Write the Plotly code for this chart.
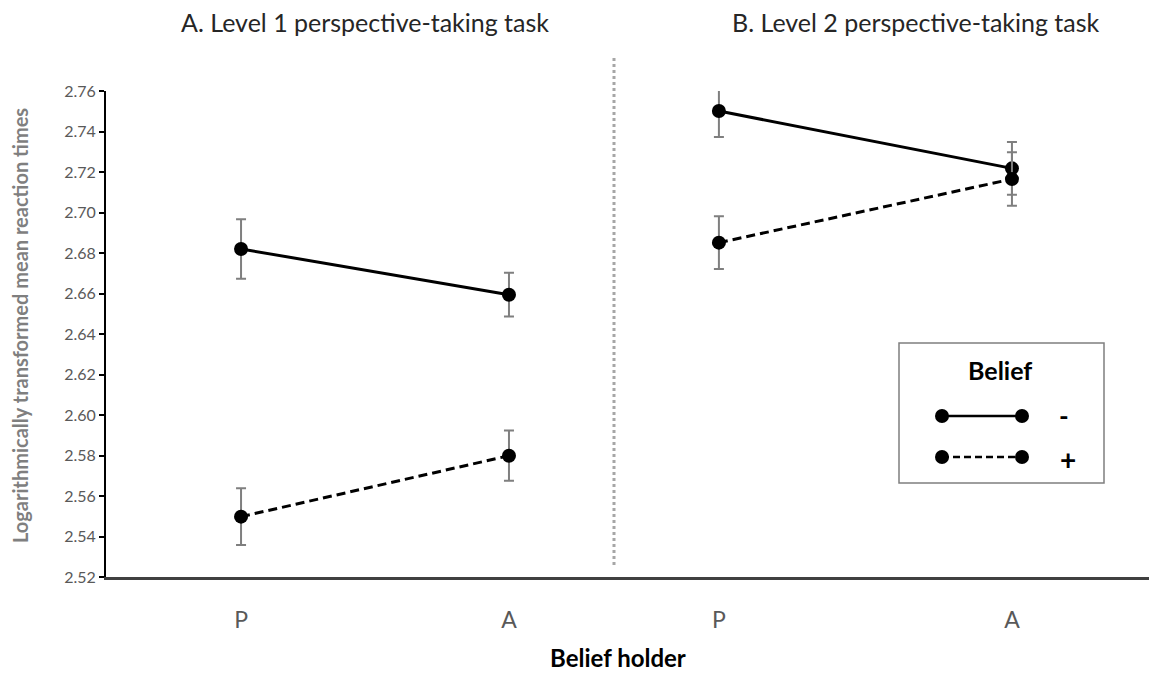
import plotly.graph_objects as go

# ---------------- data ----------------
holders = ["P", "A"]
panel_titles = ["A. Level 1 perspective-taking task", "B. Level 2 perspective-taking task"]
belief_labels = ["-", "+"]

l1_neg = [2.682, 2.6594]
l1_neg_err = [0.0147, 0.0108]
l1_pos = [2.5498, 2.5799]
l1_pos_err = [0.0140, 0.0124]

l2_neg = [2.7501, 2.7218]
l2_neg_err = [0.0128, 0.0130]
l2_pos = [2.6851, 2.7165]
l2_pos_err = [0.0130, 0.0132]

y_ticks = [2.52 + 0.02 * i for i in range(13)]

# ---------------- layout constants ----------------
OFF = 8  # page body margin
W, H = 1157 - OFF, 673 - OFF
ML, MR, MT, MB = 106 - OFF, 0, 91 - OFF, 673 - 577
PW = W - ML - MR
PH = H - MT - MB

def px_x(px):
    return (px - OFF - ML) / PW

def px_y(py):
    return (H - MB - (py - OFF)) / PH

split = px_x(614)
FONT = "Lato"
ERR_COLOR = "#7f7f7f"

fig = go.Figure()

def add_series(xaxis, yaxis, vals, errs, dash):
    fig.add_trace(go.Scatter(
        x=holders, y=vals, xaxis=xaxis, yaxis=yaxis,
        mode="lines+markers",
        line=dict(color="black", width=3, dash=dash),
        marker=dict(color="black", size=14),
        error_y=dict(type="data", array=errs, visible=True,
                     color=ERR_COLOR, thickness=2, width=5),
        showlegend=False, hoverinfo="y",
    ))

add_series("x", "y", l1_neg, l1_neg_err, "solid")
add_series("x", "y", l1_pos, l1_pos_err, "9px,5px")
add_series("x2", "y2", l2_neg, l2_neg_err, "solid")
add_series("x2", "y2", l2_pos, l2_pos_err, "9px,5px")

# legend drawn on its own full-size axis
leg_x = [px_x(942), px_x(1022)]
for lab, dash, py in zip(belief_labels, ["solid", "7px,4px"], [416, 457]):
    fig.add_trace(go.Scatter(
        x=leg_x, y=[px_y(py)] * 2, xaxis="x3", yaxis="y3",
        mode="lines+markers",
        line=dict(color="black", width=2.5, dash=dash),
        marker=dict(color="black", size=14),
        showlegend=False, hoverinfo="skip",
    ))

tick_font = dict(family=FONT, size=16, color="#595959")
xtick_font = dict(family=FONT, size=23, color="#595959")

fig.update_layout(
    width=W, height=H,
    margin=dict(l=ML, r=MR, t=MT, b=MB),
    paper_bgcolor="white", plot_bgcolor="rgba(0,0,0,0)",
    font=dict(family=FONT),
    xaxis=dict(domain=[0, split], type="category", range=[-0.504, 1.392],
               showgrid=False, zeroline=False, showline=True,
               linecolor="#404040", linewidth=2.5,
               ticks="outside", ticklen=21, tickcolor="rgba(0,0,0,0)",
               tickfont=xtick_font, fixedrange=True),
    xaxis2=dict(domain=[split, 1], type="category", range=[-0.358, 1.495],
                showgrid=False, zeroline=False, showline=True,
                linecolor="#404040", linewidth=2.5,
                ticks="outside", ticklen=21, tickcolor="rgba(0,0,0,0)",
                tickfont=xtick_font, anchor="y2", fixedrange=True),
    yaxis=dict(range=[2.52, 2.76], tickvals=y_ticks, tickformat=".2f",
               showgrid=False, zeroline=False, showline=True,
               linecolor="black", linewidth=2,
               ticks="outside", ticklen=5, tickwidth=2, tickcolor="black",
               tickfont=tick_font, fixedrange=True),
    yaxis2=dict(range=[2.52, 2.76], anchor="x2", matches="y",
                visible=False, fixedrange=True),
    xaxis3=dict(domain=[0, 1], range=[0, 1], visible=False,
                anchor="y3", fixedrange=True),
    yaxis3=dict(domain=[0, 1], range=[0, 1], visible=False,
                anchor="x3", fixedrange=True),
    showlegend=False,
)

# dotted divider
fig.add_shape(type="line", xref="paper", yref="paper",
              x0=split, x1=split, y0=px_y(565), y1=px_y(55),
              line=dict(color="#a6a6a6", width=3, dash="dot"))

# legend box
fig.add_shape(type="rect", xref="paper", yref="paper",
              x0=px_x(899), x1=px_x(1104), y0=px_y(483), y1=px_y(343),
              line=dict(color="#7f7f7f", width=1.5), fillcolor="rgba(0,0,0,0)")

annos = [
    dict(text="<b>Belief</b>", x=px_x(1000), y=px_y(370), font=dict(size=25, color="black")),
    dict(text="<b>-</b>", x=px_x(1064), y=px_y(416), font=dict(size=26, color="black")),
    dict(text="<b>+</b>", x=px_x(1068), y=px_y(459), font=dict(size=28, color="black")),
    dict(text=panel_titles[0], x=px_x(365), y=px_y(22), font=dict(size=25, color="#262626")),
    dict(text=panel_titles[1], x=px_x(916), y=px_y(22), font=dict(size=25, color="#262626")),
    dict(text="<b>Belief holder</b>", x=px_x(618), y=px_y(657), font=dict(size=24, color="black")),
    dict(text="<b>Logarithmically transformed mean reaction times</b>", x=px_x(20), y=px_y(326),
         textangle=-90, font=dict(size=20, color="#7f7f7f")),
]
for a in annos:
    fig.add_annotation(xref="paper", yref="paper", showarrow=False,
                       xanchor="center", yanchor="middle",
                       font_family=FONT, **a)

fig.write_html("out.html")
